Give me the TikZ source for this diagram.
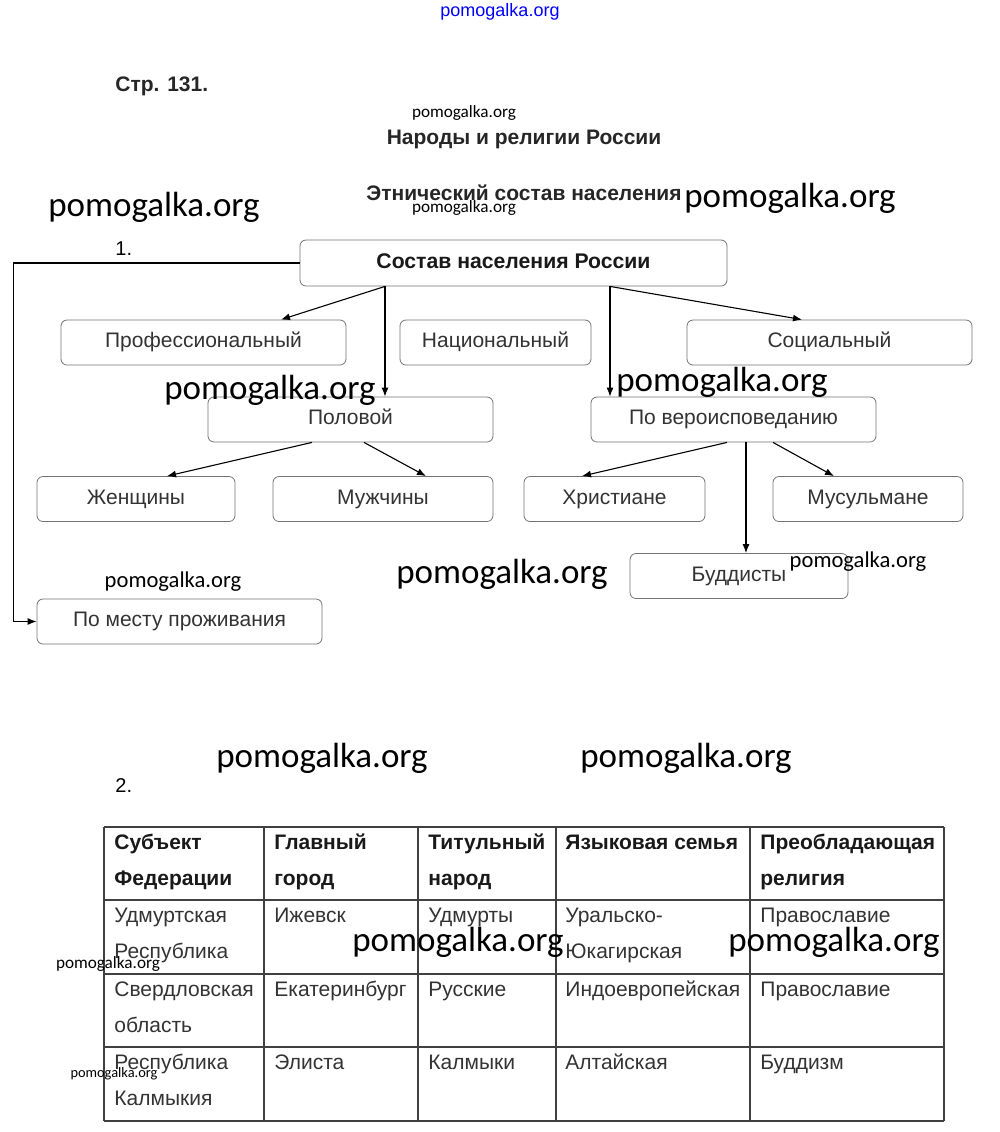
\documentclass[tikz,border=0pt]{standalone}
\usepackage{fontspec}
\setmainfont{Liberation Sans}
\newfontfamily\wmfont{Carlito}
\usetikzlibrary{arrows.meta, positioning}

\begin{document}
\begin{tikzpicture}[
    x=0.5pt, y=-0.5pt,
    box/.style={rectangle, draw=black!55, rounded corners=3pt, fill=white, text=black!80, font=\fontsize{10.5}{12}\selectfont, minimum height=22.5pt, inner sep=0pt, text height=7.6pt, text depth=2.2pt},
    wire/.style={draw, line width=0.55pt, -{Latex[length=4.5pt,width=3.5pt]}},
    wm/.style={font=\wmfont\fontsize{17.5}{20}\selectfont, inner sep=0pt},
    wmmid/.style={font=\wmfont\fontsize{11.3}{13}\selectfont, inner sep=0pt},
    wmsmall/.style={font=\wmfont\fontsize{8.6}{10}\selectfont, inner sep=0pt},
    title/.style={font=\bfseries\fontsize{10.5}{12}\selectfont, text=black!85, inner sep=0pt},
    cell/.style={anchor=base west, align=left, inner sep=0pt, text=black!80, font=\fontsize{10.5}{18}\selectfont},
    cellii/.style={cell, yshift=-18pt},
    headcell/.style={cellii, text=black!90, font=\bfseries\fontsize{10.5}{18}\selectfont},
    tabline/.style={draw=black!75, line width=0.6pt}
]
\useasboundingbox (0,0) rectangle (1000,1132);

% --- Заголовки ---
\node[font=\fontsize{9}{10}\selectfont, text=blue, inner sep=0pt] (site) at (500,12) {pomogalka.org};
\node[title, anchor=west] (page) at (115,86) {Стр. 131.};
\node[title] (tema) at (524,139) {Народы и религии России};
\node[title] (sub) at (524,193) {Этнический состав населения};
\node[anchor=west, font=\fontsize{10}{12}\selectfont, inner sep=0pt] (num1) at (115,249) {1.};

% --- Схема ---
\node[box, minimum width=213.5pt, minimum height=23pt, text=black!90, font=\bfseries\fontsize{10.6}{12}\selectfont] (sostav) at (513.5,263) {Состав населения России};
\node[box, minimum width=142.5pt] (prof) at (203.5,342.5) {Профессиональный};
\node[box, minimum width=95.5pt] (nac) at (495.5,342.5) {Национальный};
\node[box, minimum width=142.5pt] (soc) at (829.5,342.5) {Социальный};
\node[box, minimum width=142.5pt] (pol) at (350.5,419.5) {Половой};
\node[box, minimum width=142.5pt] (vera) at (733.5,419.5) {По вероисповеданию};
\node[box, minimum width=99pt] (zhen) at (136,499) {Женщины};
\node[box, minimum width=110pt] (muzh) at (383,499) {Мужчины};
\node[box, minimum width=90.5pt] (hrist) at (614.5,499) {Христиане};
\node[box, minimum width=95pt] (musul) at (868,499) {Мусульмане};
\node[box, minimum width=109pt] (budd) at (739,576) {Буддисты};
\node[box, minimum width=142.5pt] (mesto) at (179.5,621.5) {По месту проживания};

% стрелки от главного блока
\draw[wire] ([xshift=-64.25pt]sostav.south) -- ([xshift=38.75pt]prof.north);
\draw[wire] ([xshift=-64.25pt]sostav.south) -- ([xshift=-64.25pt]sostav.south |- pol.north);
\draw[wire] ([xshift=48.25pt]sostav.south) -- ([xshift=48.25pt]sostav.south |- vera.north);
\draw[wire] ([xshift=48.25pt]sostav.south) -- ([xshift=-13.75pt]soc.north);
\draw[wire] (sostav.west) -- ++(-143pt,0) |- (mesto.west);

% второй уровень
\draw[wire] ([xshift=-19.25pt]pol.south) -- ([xshift=15.5pt]zhen.north);
\draw[wire] ([xshift=6.75pt]pol.south) -- ([xshift=21.5pt]muzh.north);
\draw[wire] ([xshift=-3.25pt]vera.south) -- ([xshift=-16.25pt]hrist.north);
\draw[wire] ([xshift=19.75pt]vera.south) -- ([xshift=-17pt]musul.north);
\draw[wire] ([xshift=6.25pt]vera.south) -- ([xshift=6.25pt]vera.south |- budd.north);

% --- Таблица ---
\node[anchor=west, font=\fontsize{10}{12}\selectfont, inner sep=0pt] (num2) at (115,786) {2.};

\draw[tabline] (104,827) -- (944,827) (104,900) -- (944,900) (104,974) -- (944,974)
    (104,1047) -- (944,1047) (104,1121) -- (944,1121);
\draw[tabline] (104,827) -- (104,1121) (264,827) -- (264,1121) (418,827) -- (418,1121)
    (556,827) -- (556,1121) (750,827) -- (750,1121) (944,827) -- (944,1121);

\node[headcell] (h1) at (114,849) {Субъект\\Федерации};
\node[headcell] (h2) at (274,849) {Главный\\город};
\node[headcell] (h3) at (428,849) {Титульный\\народ};
\node[headcell, yshift=18pt] (h4) at (565,849) {Языковая семья};
\node[headcell] (h5) at (760,849) {Преобладающая\\религия};

\node[cellii] (a1) at (114,922) {Удмуртская\\Республика};
\node[cell] (a2) at (274,922) {Ижевск};
\node[cell] (a3) at (428,922) {Удмурты};
\node[cellii] (a4) at (565,922) {Уральско-\\Юкагирская};
\node[cell] (a5) at (760,922) {Православие};

\node[cellii] (b1) at (114,996) {Свердловская\\область};
\node[cell] (b2) at (274,996) {Екатеринбург};
\node[cell] (b3) at (428,996) {Русские};
\node[cell] (b4) at (565,996) {Индоевропейская};
\node[cell] (b5) at (760,996) {Православие};

\node[cellii] (c1) at (114,1069) {Республика\\Калмыкия};
\node[cell] (c2) at (274,1069) {Элиста};
\node[cell] (c3) at (428,1069) {Калмыки};
\node[cell] (c4) at (565,1069) {Алтайская};
\node[cell] (c5) at (760,1069) {Буддизм};

% --- Водяные знаки ---
\node[wmsmall] (wm1) at (464,113) {pomogalka.org};
\node[wmsmall] (wm2) at (464,208) {pomogalka.org};
\node[wm] (wm3) at (154,207) {pomogalka.org};
\node[wm] (wm4) at (790,198) {pomogalka.org};
\node[wm] (wm5) at (270,390) {pomogalka.org};
\node[wm] (wm6) at (722,382) {pomogalka.org};
\node[wmmid] (wm7) at (173,582) {pomogalka.org};
\node[wm] (wm8) at (502,574) {pomogalka.org};
\node[wmmid] (wm9) at (858,562) {pomogalka.org};
\node[wm] (wm10) at (322,758) {pomogalka.org};
\node[wm] (wm11) at (686,758) {pomogalka.org};
\node[wm] (wm12) at (458,942) {pomogalka.org};
\node[wm] (wm13) at (834,942) {pomogalka.org};
\node[wmsmall] (wm14) at (108,964) {pomogalka.org};
\node[font=\wmfont\fontsize{7.2}{8}\selectfont, inner sep=0pt] (wm15) at (114,1074) {pomogalka.org};
\end{tikzpicture}
\end{document}
